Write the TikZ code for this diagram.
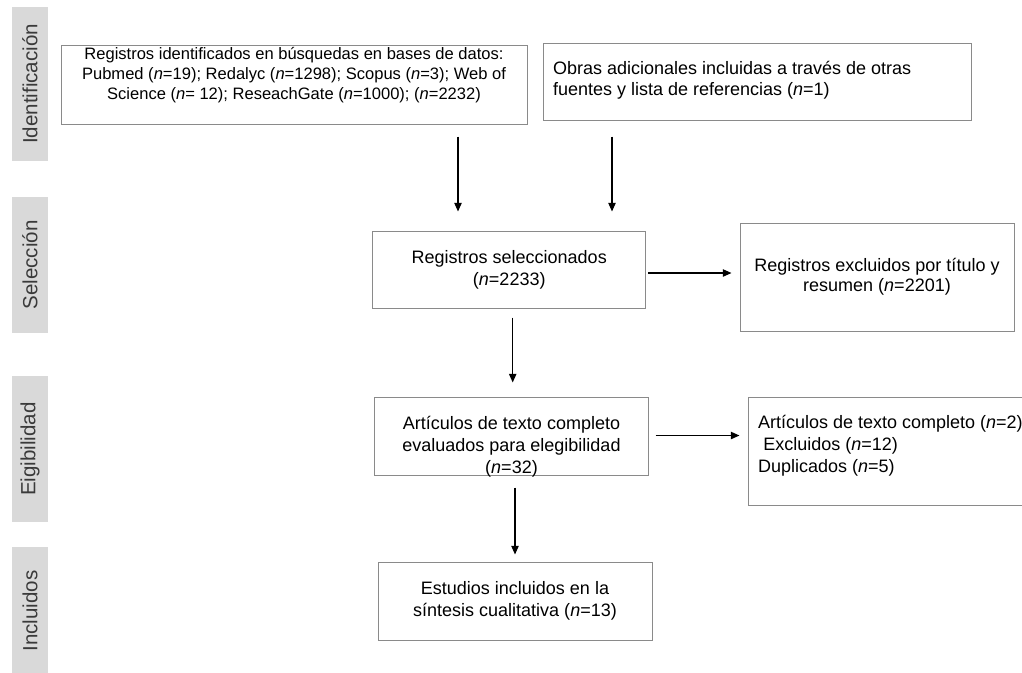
\documentclass[tikz,border=0pt]{standalone}
\usepackage{fontspec}
\setmainfont{Liberation Sans}
\usepackage{xcolor}
\usepackage{tikz}
\usetikzlibrary{arrows.meta,positioning,shapes}

\definecolor{phasegray}{HTML}{D9D9D9}
\definecolor{bordergray}{HTML}{8A8A8A}
\definecolor{phasetext}{HTML}{3A3A3A}

% text inside a box: raise, width, content
\newcommand{\boxtxt}[3]{\raisebox{#1}[0pt][0pt]{\parbox{#2}{#3}}}

\begin{document}
\begin{tikzpicture}[x=0.75pt, y=-0.75pt,
    box/.style={rectangle, draw=bordergray, line width=0.75pt, inner sep=0pt,
        font=\fontsize{13.5pt}{16.5pt}\selectfont},
    phase/.style={rectangle, fill=phasegray, rotate=90, inner sep=0pt, minimum height=27pt,
        text=phasetext, font=\fontsize{15.4pt}{18pt}\selectfont},
    arrow/.style={-{Triangle[length=6.5pt,width=5.5pt]}, line width=1pt}
]
    \useasboundingbox (0,0) rectangle (1022,672);

    % Phases
    \node[phase, minimum width=115.5pt] (ph_ident) at (30,84) {Identificación};
    \node[phase, minimum width=102pt] (ph_sel) at (30,265) {Selección};
    \node[phase, minimum width=109.5pt] (ph_elig) at (30,449) {Eigibilidad};
    \node[phase, minimum width=96pt] (ph_incl) at (30,611) {Incluidos};

    % Identification
    \node[box, minimum width=349.5pt, minimum height=59.25pt,
        font=\fontsize{12.4pt}{15pt}\selectfont] (db_records) at (294,84.5)
        {\boxtxt{4pt}{334.5pt}{\centering Registros identificados en búsquedas en bases de datos:\\
        Pubmed (\textit{n}=19); Redalyc (\textit{n}=1298); Scopus (\textit{n}=3); Web of\\
        Science (\textit{n}= 12); ReseachGate (\textit{n}=1000); (\textit{n}=2232)}};
    \node[box, minimum width=321pt, minimum height=57.75pt, font=\fontsize{13.5pt}{15.6pt}\selectfont] (other_src) at (757,81.5)
        {\boxtxt{-2.6pt}{306pt}{\raggedright Obras adicionales incluidas a través de otras\\
        fuentes y lista de referencias (\textit{n}=1)}};

    % Selection
    \node[box, minimum width=205pt, minimum height=57.75pt] (screened) at (509.25,269.5)
        {\boxtxt{-3.8pt}{190.5pt}{\centering Registros seleccionados\\(\textit{n}=2233)}};
    \node[box, minimum width=205.5pt, minimum height=81pt, font=\fontsize{13.5pt}{15.6pt}\selectfont] (excl_title) at (877,277)
        {\boxtxt{-3.4pt}{190.5pt}{\centering Registros excluidos por título y\\resumen (\textit{n}=2201)}};

    % Eligibility
    \node[box, minimum width=205.5pt, minimum height=58.5pt] (fulltext) at (511.5,436)
        {\boxtxt{-11.6pt}{190.5pt}{\centering Artículos de texto completo\\evaluados para elegibilidad\\(\textit{n}=32)}};
    \node[box, minimum width=225pt, minimum height=81pt] (excl_full) at (898,451)
        {\boxtxt{0.6pt}{210pt}{\raggedright Artículos de texto completo (\textit{n}=2)\\
        \hspace*{4pt}Excluidos (\textit{n}=12)\\Duplicados (\textit{n}=5)}};

    % Included
    \node[box, minimum width=205.5pt, minimum height=58.5pt] (included) at (515,601)
        {\boxtxt{-3.4pt}{190.5pt}{\centering Estudios incluidos en la\\síntesis cualitativa (\textit{n}=13)}};

    % Arrow lines
    \coordinate (a_left) at (458,0);
    \coordinate (a_right) at (612,0);
    \coordinate (a_sel) at (0,273);
    \coordinate (a_down1) at (512.7,0);
    \coordinate (a_elig) at (0,435.5);
    \coordinate (a_down2) at (515,0);

    % Arrows
    \draw[arrow, shorten <=9pt, shorten >=14.25pt] (db_records.south -| a_left) -- (screened.north -| a_left);
    \draw[arrow, shorten <=12pt, shorten >=14.25pt] (other_src.south -| a_right) -- (screened.north -| a_right);
    \draw[arrow, shorten <=1.5pt, shorten >=6pt] (screened.east |- a_sel) -- (excl_title.west |- a_sel);
    \draw[arrow, shorten <=6.75pt, shorten >=10.5pt] (screened.south -| a_down1) -- (fulltext.north -| a_down1);
    \draw[arrow, shorten <=4.9pt, shorten >=6pt] (fulltext.east |- a_elig) -- (excl_full.west |- a_elig);
    \draw[arrow, shorten <=9pt, shorten >=5.25pt] (fulltext.south -| a_down2) -- (included.north -| a_down2);
\end{tikzpicture}
\end{document}
